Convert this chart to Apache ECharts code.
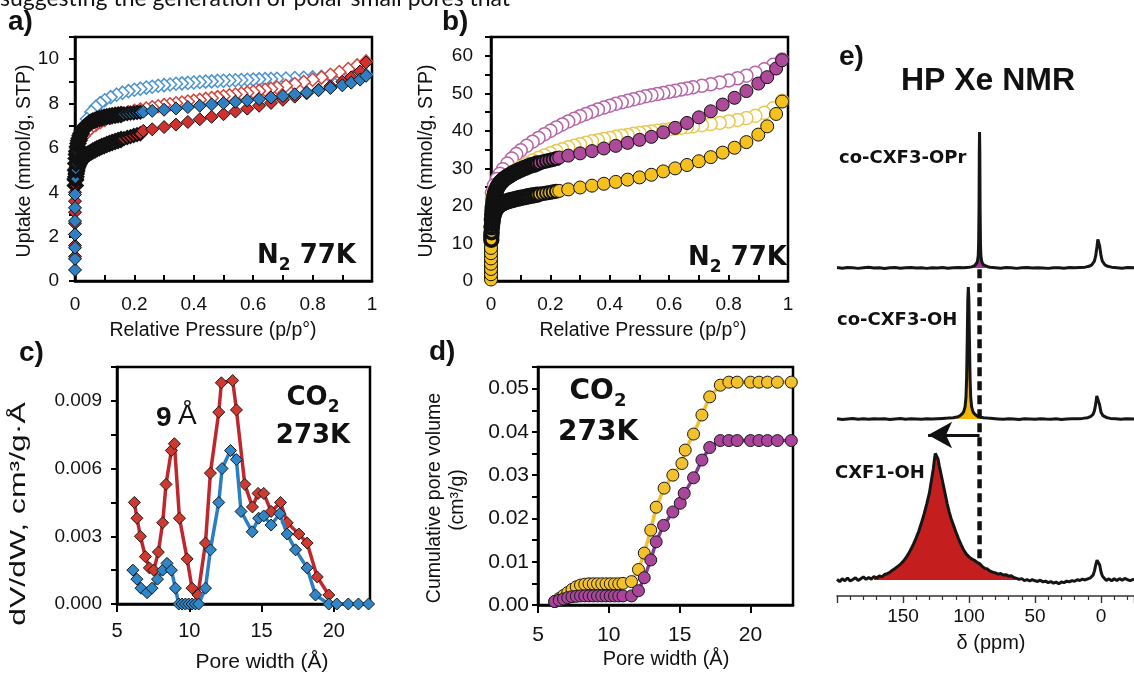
<!DOCTYPE html>
<html><head><meta charset="utf-8">
<script src="https://cdn.jsdelivr.net/npm/echarts@6/dist/echarts.min.js"></script>
<style>html,body{margin:0;padding:0;background:#fff}#c{width:1134px;height:673px}</style>
</head><body><div id="c"></div>
<script>
// ---------------- DATA ----------------
// Panels a & b: isotherm relative pressures
const adsP = [0,0,0,0,0,0,0,
 0.001,0.002,0.003,0.004,0.005,0.006,0.008,0.010,0.012,0.014,0.017,0.020,0.024,0.028,0.032,0.037,0.042,0.048,0.054,0.060,0.067,0.074,0.082,0.090,0.098,0.107,0.116,0.125,0.135,0.145,0.155,0.165,0.176,0.187,0.198,0.209,0.220,
 0.23,0.26,0.30,0.34,0.38,0.42,0.46,0.50,0.54,0.58,0.62,0.66,0.70,0.74,0.78,0.82,0.86,0.90,0.93,0.96,0.98];
const desP = [0.98,0.95,0.92,0.89,0.86,0.83,0.80,0.77,0.74,0.71,0.68,0.66,0.64,0.62,0.60,0.58,0.56,0.54,0.52,0.50,0.48,0.46,0.44,0.42,0.40,0.38,0.36,0.34,0.32,0.30,0.28,0.26,0.24,0.22,0.20,0.18,0.16,0.14,0.12,0.10,0.085,0.07,0.055,0.04,0.03,0.02,0.01,0.003];

// Panel a (mmol/g)
const aRedAds = [1.1,1.6,2.1,2.6,3.1,3.6,4.0,
 4.3,4.55,4.7,4.82,4.92,5.0,5.1,5.18,5.25,5.3,5.37,5.43,5.5,5.56,5.61,5.66,5.71,5.76,5.81,5.86,5.91,5.96,6.01,6.06,6.1,6.15,6.2,6.24,6.29,6.33,6.38,6.42,6.47,6.51,6.56,6.6,6.64,
 6.77,6.84,6.94,7.05,7.17,7.29,7.4,7.52,7.64,7.77,7.9,8.03,8.17,8.31,8.46,8.62,8.78,8.98,9.18,9.45,9.85];
const aBlueAds = [0.5,1.0,1.5,2.1,2.7,3.3,3.9,
 4.6,5.0,5.3,5.52,5.7,5.85,6.05,6.2,6.32,6.42,6.55,6.65,6.76,6.85,6.93,7.0,7.06,7.12,7.17,7.21,7.25,7.29,7.32,7.35,7.38,7.41,7.43,7.45,7.47,7.49,7.51,7.53,7.55,7.57,7.58,7.6,7.61,
 7.63,7.67,7.72,7.78,7.84,7.9,7.96,8.02,8.08,8.14,8.2,8.27,8.34,8.42,8.5,8.6,8.7,8.82,8.94,9.08,9.25];
const aRedDes = [9.9,9.72,9.56,9.42,9.3,9.18,9.07,8.97,8.88,8.8,8.72,
 8.67,8.62,8.57,8.53,8.49,8.45,8.41,8.37,8.33,
 8.29,8.25,8.21,8.17,8.13,8.09,8.05,8.01,7.97,7.93,
 7.88,7.83,7.78,7.73,7.67,7.61,7.54,7.46,7.37,7.26,
 7.16,7.04,6.9,6.72,6.55,6.35,6.1,5.8];
const aBlueDes = [9.3,9.28,9.26,9.24,9.22,9.2,9.18,9.16,9.15,9.13,9.12,
 9.11,9.1,9.09,9.08,9.07,9.06,9.05,9.04,9.03,
 9.02,9.0,8.99,8.97,8.95,8.93,8.91,8.89,8.86,8.83,
 8.8,8.76,8.72,8.67,8.62,8.56,8.49,8.4,8.29,8.15,
 8.02,7.85,7.62,7.3,7.0,6.65,6.3,6.0];

// Panel b (mmol/g)
const bMagAds = [1.0,2.5,4.0,5.5,7.0,8.5,10.0,
 12,14.5,16.3,17.7,18.8,19.7,21,22,22.8,23.4,24.1,24.7,25.3,25.8,26.2,26.6,27.0,27.4,27.7,28.0,28.35,28.7,29.0,29.3,29.6,29.9,30.2,30.5,30.8,31.0,31.3,31.5,31.8,32.0,32.2,32.4,32.6,
 32.9,33.4,34.0,34.6,35.3,36.0,36.8,37.6,38.4,39.6,40.8,42.1,43.6,45.2,47.0,48.8,50.6,52.6,54.3,56.6,58.8];
const bGoldAds = [0.4,1.8,3.2,4.6,6.0,7.4,8.8,
 11,13,14.3,15.2,15.9,16.5,17.3,17.9,18.4,18.8,19.2,19.6,19.9,20.2,20.4,20.6,20.8,21.0,21.2,21.35,21.5,21.65,21.8,21.95,22.1,22.25,22.4,22.55,22.7,22.85,23.0,23.15,23.3,23.45,23.6,23.75,23.9,
 24.0,24.4,24.9,25.4,25.9,26.4,27.0,27.6,28.3,29.2,30.0,30.9,31.9,33.0,34.2,35.5,37.0,39.0,41.2,44.5,47.8];
const bMagDes = [59,57.6,56.4,55.5,54.7,54.0,53.4,52.9,52.4,52.0,51.6,
 51.3,51.0,50.7,50.4,50.1,49.8,49.5,49.2,48.8,
 48.4,48.0,47.6,47.2,46.7,46.2,45.7,45.1,44.5,43.9,
 43.2,42.5,41.7,40.9,40.0,39.1,38.1,37.1,36.0,34.8,
 33.8,32.6,31.3,29.8,28.6,27.2,25.5,23.5];
const bGoldDes = [48,46.0,44.8,44.0,43.4,42.9,42.5,42.1,41.8,41.5,41.2,
 41.0,40.8,40.6,40.4,40.2,40.0,39.8,39.6,39.4,
 39.2,38.9,38.7,38.4,38.1,37.8,37.5,37.2,36.8,36.4,
 36.0,35.6,35.1,34.6,34.0,33.4,32.8,32.1,31.3,30.4,
 29.7,28.9,28.0,27.0,26.2,25.2,23.8,22.0];

// Panel c: pore size distribution (dV/dW)
const cRedW = [6.2,6.38,6.62,6.96,7.24,7.54,7.86,8.16,8.39,8.76,8.97,9.32,9.85,10.19,10.6,11.12,11.46,12.04,12.22,13.0,13.26,13.84,14.37,14.76,15.15,15.66,16.31,16.77,17.58,18.15,18.85,19.65];
const cRedV = [0.0045,0.0038,0.003,0.0021,0.0016,0.0015,0.0023,0.0036,0.0053,0.0068,0.0071,0.0038,0.002,0.0007,0.0004,0.0027,0.0058,0.0085,0.0098,0.0099,0.0086,0.0053,0.0043,0.0049,0.0049,0.0041,0.0045,0.0036,0.0031,0.0027,0.0012,0.0004];
const cBlueW = [6.1,6.38,6.66,7.08,7.42,7.8,8.16,8.46,8.76,9.04,9.27,9.5,9.73,9.96,10.19,10.42,10.65,11.12,11.46,12.04,12.27,12.85,13.26,13.58,14.35,14.8,15.15,15.66,16.26,16.77,17.35,18.15,18.73,19.65,20.2,21.0,21.7,22.4];
const cBlueV = [0.0015,0.0011,0.0007,0.0005,0.0007,0.0011,0.0015,0.0018,0.0015,0.0007,0,0,0,0,0,0,0,0.0007,0.0024,0.0045,0.006,0.0068,0.0064,0.0041,0.0032,0.0038,0.0039,0.0035,0.004,0.0031,0.0024,0.0016,0.0004,0,0,0,0,0];

// Panel d: cumulative pore volume
const dGoldW = [6.18,6.5,6.8,7.1,7.4,7.7,8.0,8.3,8.6,8.9,9.2,9.5,9.8,10.1,10.4,10.7,11.0,11.6,12.09,12.5,12.96,13.34,13.9,14.52,15.16,15.39,15.98,16.57,17.12,17.87,18.47,19.06,20.0,20.6,21.2,21.9,22.88];
const dGoldV = [0.0008,0.0015,0.0022,0.0029,0.0036,0.0042,0.0046,0.0048,0.0049,0.0049,0.0049,0.0049,0.0049,0.0049,0.0049,0.0049,0.005,0.0054,0.0082,0.012,0.0173,0.0226,0.027,0.03,0.0327,0.0358,0.0395,0.0439,0.0481,0.0508,0.0515,0.0515,0.0515,0.0515,0.0515,0.0515,0.0515];
const dMagW = [6.18,6.5,6.8,7.1,7.4,7.7,8.0,8.3,8.6,8.9,9.2,9.5,9.8,10.1,10.4,10.7,11.0,11.6,12.09,12.5,12.96,13.34,13.86,14.52,15.04,15.32,15.98,16.57,17.12,17.87,18.47,19.06,20.0,20.6,21.2,21.9,22.88];
const dMagV = [0.0008,0.0011,0.0014,0.0017,0.0019,0.002,0.0021,0.0021,0.0021,0.0021,0.0021,0.0021,0.0021,0.0021,0.0021,0.0021,0.0021,0.0021,0.0033,0.0063,0.0104,0.0146,0.0184,0.0215,0.0235,0.0258,0.0294,0.0335,0.0364,0.038,0.038,0.038,0.038,0.038,0.038,0.038,0.038];

// Panel e: 129Xe NMR spectra [ppm, intensity]
const eOPr = [[200,0.3],[196,-0.2],[192,0.4],[188,0.1],[184,-0.3],[180,0.2],[176,0.5],[172,-0.1],[168,0.2],[164,-0.4],[160,0.1],[156,0.3],[152,-0.2],[148,0.2],[144,0.4],[140,-0.1],[136,0.1],[132,-0.3],[128,0.2],[124,0.0],[120,0.3],[116,-0.2],[112,0.1],[108,0.4],[104,0.2],[100,0.5],[98,0.8],[96,1.5],[95,2.2],[94,3.8],[93.5,5.5],[93,9],[92.7,18],[92.4,45],[92.2,85],[92,100],[91.8,85],[91.6,45],[91.3,18],[91,9],[90.5,5.5],[90,3.8],[89,2.2],[88,1.5],[86,0.9],[84,0.5],[80,0.2],[76,-0.2],[72,0.3],[68,0.1],[64,-0.3],[60,0.2],[56,0.4],[52,-0.1],[48,0.2],[44,0.0],[40,-0.3],[36,0.2],[32,0.1],[28,-0.2],[24,0.3],[20,0.1],[16,0.4],[12,0.6],[9,1.2],[7,2.3],[5,5],[4,9],[3,16],[2.4,21],[2,22],[1.6,21],[1,16],[0,9],[-1,5],[-3,2.3],[-5,1.2],[-8,0.6],[-12,0.2],[-16,-0.2],[-20,0.3],[-25,0.1]];
const eOH = [[200,0.2],[196,-0.3],[192,0.1],[188,0.4],[184,-0.1],[180,0.2],[176,-0.2],[172,0.3],[168,0.0],[164,0.2],[160,-0.3],[156,0.1],[152,0.4],[148,-0.1],[144,0.2],[140,0.0],[136,-0.2],[132,0.3],[128,0.1],[124,0.3],[120,0.5],[116,0.7],[112,1.0],[109,1.5],[107,2.3],[105,4],[104,5.5],[103,9],[102.3,16],[101.8,30],[101.3,60],[100.9,88],[100.5,97],[100.1,88],[99.7,60],[99.2,30],[98.7,16],[98,9],[97,5.5],[96,4],[94,2.3],[92,1.5],[89,1.0],[86,0.7],[82,0.4],[78,0.1],[74,-0.2],[70,0.2],[66,0.0],[62,-0.3],[58,0.2],[54,0.1],[50,-0.2],[46,0.3],[42,0.0],[38,-0.1],[34,0.2],[30,-0.3],[26,0.1],[22,0.2],[18,0.3],[14,0.5],[10,1.0],[8,1.8],[6,3.5],[5,6],[4,11],[3.2,17],[2.6,18],[2,17],[1.2,11],[0,5],[-1.5,2.5],[-4,1.2],[-7,0.5],[-11,0.2],[-15,-0.2],[-19,0.2],[-25,0.0]];
const eCXF1 = [[200,0.5],[198,-1.2],[196,0.8],[194,-0.5],[192,1.4],[190,-0.8],[188,0.3],[186,1.6],[184,-0.4],[182,0.9],[180,2.2],[178,0.4],[176,1.8],[174,0.6],[172,2.5],[170,1.4],[168,3.0],[166,2.2],[164,4.0],[162,4.6],[160,5.5],[158,7.2],[156,8.5],[154,10],[152,11.5],[150,13.5],[148,16],[146,19],[144,22.5],[142,26.5],[140,31],[138,36],[136,42],[134,48.5],[132,56],[130,64],[128.5,73],[127,82],[126,90],[125.5,93],[124.5,92.5],[123.5,89],[122.5,84],[121,77],[119.5,70],[118,63],[116.5,56],[115,50],[113.5,45],[112,41],[110,35.5],[108,30.5],[106,26],[104,22],[102,19],[100,17],[98,15.5],[96,14.5],[94,13],[92,12],[90,10],[88,8.5],[86,8],[84,6.5],[82,5.8],[80,5.2],[78,4.3],[76,4.8],[74,3.6],[72,3.9],[70,2.8],[68,3.1],[66,1.8],[64,1.2],[62,0.4],[60,1.0],[58,-0.5],[56,0.3],[54,-0.8],[52,0.2],[50,-0.6],[48,-1.1],[46,-0.2],[44,-1.4],[42,-0.9],[40,-2.0],[38,-1.2],[36,-2.4],[34,-1.6],[32,-2.8],[30,-1.5],[28,-2.0],[26,-0.9],[24,-1.4],[22,-0.5],[20,-1.0],[18,0.2],[16,-0.4],[14,0.6],[12,0.0],[10,0.8],[8,1.6],[6,3.5],[5,6.5],[4,11],[3,14.5],[2.5,15],[2,14.5],[1,11],[0,6],[-1,3],[-2.5,1.2],[-4,-0.3],[-6,0.8],[-8,-0.6],[-10,0.9],[-12,-0.4],[-14,1.0],[-16,-0.2],[-18,1.1],[-20,0.3],[-22,-0.5],[-25,0.6]];

// ---------------- LAYOUT / STYLE ----------------
const SANS = "'Liberation Sans', Arial, sans-serif";
const BOLDF = "'DejaVu Sans', sans-serif";
const OFF = {opr: 241.2, oh: 130.1, cxf1: 11.8};     // stacking offsets of the spectra
const FILL = {opr: [86, 98], oh: [86, 110], cxf1: [62, 172]};
const ARROW_Y = 118.4, ARROW_TIP = 131;

const pairs = (xs, ys) => xs.map((x, i) => [x, ys[i]]);
const shift = (d, o) => d.map(p => [p[0], p[1] + o]);
// dense low-pressure points overlap into a dark mass: give them heavier outlines
const densePairs = (xs, ys) => xs.map((x, i) => ({value: [x, ys[i]],
  itemStyle: {borderWidth: x === 0 ? 1 : (x < 0.16 ? 3.5 : (x <= 0.221 ? 2 : 1))}}));

function axisBase(extra) {
  return Object.assign({
    type: 'value', splitLine: {show: false},
    axisLine: {show: true, onZero: false, lineStyle: {color: '#000', width: 2.5}},
    axisTick: {show: true, length: 6, lineStyle: {color: '#000', width: 2}},
    minorTick: {show: true, splitNumber: 2, length: 6, lineStyle: {color: '#000', width: 2}},
    axisLabel: {color: '#111', fontFamily: SANS, fontSize: 19, margin: 16, showMaxLabel: false}
  }, extra);
}

const grids = [
  {left: 75, top: 37, width: 297, height: 244},
  {left: 491, top: 37, width: 297, height: 244},
  {left: 117, top: 367, width: 253, height: 237},
  {left: 538, top: 367, width: 255, height: 238},
  {left: 837, top: 120, width: 297, height: 476}
].map((g, i) => Object.assign(g, i < 4 ? {show: true, borderColor: '#000', borderWidth: 2.5, containLabel: false} : {containLabel: false}));

const xAxes = [
  axisBase({gridIndex: 0, min: 0, max: 1, interval: 0.2, axisTick: {show: true, inside: true, length: 6, lineStyle: {color: '#000', width: 2}}, axisLabel: {color: '#111', fontFamily: SANS, fontSize: 19, margin: 14, showMaxLabel: true}}),
  axisBase({gridIndex: 1, min: 0, max: 1, interval: 0.2, axisTick: {show: true, inside: true, length: 6, lineStyle: {color: '#000', width: 2}}, axisLabel: {color: '#111', fontFamily: SANS, fontSize: 19, margin: 14, showMaxLabel: true}}),
  axisBase({gridIndex: 2, min: 5, max: 22.5, interval: 5, minorTick: {show: false}, axisTick: {show: true, length: 8, lineStyle: {color: '#000', width: 2}}, axisLabel: {color: '#111', fontFamily: SANS, fontSize: 20, margin: 17, showMaxLabel: false}}),
  axisBase({gridIndex: 3, min: 5, max: 23, interval: 5, minorTick: {show: false}, axisTick: {show: true, length: 8, lineStyle: {color: '#000', width: 2}}, axisLabel: {color: '#111', fontFamily: SANS, fontSize: 21, margin: 20, showMaxLabel: false}}),
  {type: 'value', gridIndex: 4, min: -25, max: 200, splitNumber: 5, inverse: true, splitLine: {show: false},
   axisLine: {show: true, onZero: false, lineStyle: {color: '#333', width: 1.6}},
   axisTick: {show: true, length: 7, lineStyle: {color: '#333', width: 1.4}},
   minorTick: {show: true, splitNumber: 5, length: 4, lineStyle: {color: '#333', width: 1.2}},
   axisLabel: {color: '#111', fontFamily: SANS, fontSize: 19, margin: 11, showMaxLabel: false, showMinLabel: false}}
];
const yAxes = [
  axisBase({gridIndex: 0, min: 0, max: 11, interval: 2}),
  axisBase({gridIndex: 1, min: 0, max: 65, interval: 10, axisLabel: {color: '#111', fontFamily: SANS, fontSize: 19, margin: 18, showMaxLabel: false}}),
  axisBase({gridIndex: 2, min: 0, max: 0.0105, interval: 0.003, axisLabel: {color: '#111', fontFamily: SANS, fontSize: 19, margin: 15, showMaxLabel: false, formatter: v => v.toFixed(3)}}),
  axisBase({gridIndex: 3, min: 0, max: 0.055, interval: 0.01, axisLabel: {color: '#111', fontFamily: SANS, fontSize: 21, margin: 9, showMaxLabel: false, formatter: v => v.toFixed(2)}}),
  {type: 'value', gridIndex: 4, min: 0, max: 350, show: false}
];

function scat(ai, xs, ys, symbol, size, color, border, bw, z, dense) {
  return {type: 'scatter', xAxisIndex: ai, yAxisIndex: ai, data: dense ? densePairs(xs, ys) : pairs(xs, ys), symbol, symbolSize: size,
    itemStyle: {color, borderColor: border, borderWidth: bw, opacity: 1}, silent: true, z};
}
function lineSym(ai, xs, ys, symbol, size, color, lineColor, z) {
  return {type: 'line', xAxisIndex: ai, yAxisIndex: ai, data: pairs(xs, ys), symbol, symbolSize: size, showSymbol: true,
    lineStyle: {color: lineColor, width: 3.5}, itemStyle: {color, borderColor: '#1a1a1a', borderWidth: 1}, silent: true, z};
}
function spectrum(data, off, fillColor, range) {
  const fillData = shift(data.filter(p => p[0] >= range[0] && p[0] <= range[1]), off);
  return [
    {type: 'line', xAxisIndex: 4, yAxisIndex: 4, data: fillData, symbol: 'none', silent: true, z: 2,
     lineStyle: {width: 0, opacity: 0}, areaStyle: {color: fillColor, opacity: 1, origin: off}},
    {type: 'line', xAxisIndex: 4, yAxisIndex: 4, data: shift(data, off), symbol: 'none', silent: true, z: 3,
     lineStyle: {color: '#151515', width: 3}}
  ];
}
const peakOPr = eOPr.reduce((m, p) => p[1] > m[1] ? p : m)[0];

const series = [
  scat(0, desP, aBlueDes, 'diamond', 13, '#ffffff', '#4a93cf', 1.5, 2),
  scat(0, desP, aRedDes, 'diamond', 13, '#ffffff', '#d2453d', 1.5, 2),
  scat(0, adsP, aRedAds, 'diamond', 13, '#d1312e', '#111', 1, 3, true),
  scat(0, adsP, aBlueAds, 'diamond', 13, '#2f80c3', '#111', 1, 3, true),
  scat(1, desP, bMagDes, 'circle', 13, '#ffffff', '#b764a8', 1.5, 2),
  scat(1, desP, bGoldDes, 'circle', 13, '#ffffff', '#e8c84e', 1.5, 2),
  scat(1, adsP, bMagAds, 'circle', 13, '#ad4a9a', '#111', 1, 3, true),
  scat(1, adsP, bGoldAds, 'circle', 13, '#f5c11f', '#111', 1, 3, true),
  lineSym(2, cRedW, cRedV, 'diamond', 12, '#cf3a30', '#c0272d', 3),
  lineSym(2, cBlueW, cBlueV, 'diamond', 12, '#2f86c8', '#2a7ec4', 4),
  lineSym(3, dGoldW, dGoldV, 'circle', 12, '#f3c12b', '#f0c030', 3),
  lineSym(3, dMagW, dMagV, 'circle', 12, '#a9459a', '#7e3f93', 4),
  ...spectrum(eOPr, OFF.opr, '#a2378d', FILL.opr),
  ...spectrum(eOH, OFF.oh, '#f5b700', FILL.oh),
  ...spectrum(eCXF1, OFF.cxf1, '#c41f1e', FILL.cxf1),
  {type: 'line', xAxisIndex: 4, yAxisIndex: 4, data: [[peakOPr, OFF.opr - 1], [peakOPr, OFF.cxf1 + 13]], symbol: 'none', silent: true, z: 5,
   lineStyle: {color: '#111', width: 4.5, type: [9, 5]},
   markLine: {silent: true, symbol: ['none', 'arrow'], symbolSize: [20, 24], label: {show: false},
     lineStyle: {color: '#111', width: 3, type: 'solid'},
     data: [[{coord: [peakOPr, ARROW_Y]}, {coord: [ARROW_TIP, ARROW_Y]}]]}}
];

// ---------------- TEXT ----------------
function txt(x, y, text, size, weight, family, extra) {
  return {type: 'text', x, y, silent: true, z: 10,
    style: Object.assign({text, fontSize: size, fontWeight: weight || 'normal', fontFamily: family || SANS, fill: '#111',
      align: 'left', verticalAlign: 'middle', textAlign: 'left', textVerticalAlign: 'middle'}, extra || {})};
}
function rot(x, y, text, size, stretch) {
  return {type: 'text', x, y, rotation: Math.PI / 2, scaleX: stretch || 1, silent: true, z: 10,
    style: {text, fontSize: size, fontFamily: SANS, fill: '#111', align: 'center', verticalAlign: 'middle', textAlign: 'center', textVerticalAlign: 'middle'}};
}
function sub(x, y, main, s, rest, size, alignRight) {
  const f = {fontFamily: BOLDF, fontWeight: 'bold', fill: '#111'};
  return {type: 'text', x, y, silent: true, z: 10,
    style: {text: '{n|' + main + '}{s|' + s + '}' + (rest ? '{n|' + rest + '}' : ''),
      align: alignRight ? 'right' : 'center', verticalAlign: 'middle', textAlign: alignRight ? 'right' : 'center', textVerticalAlign: 'middle',
      rich: {n: Object.assign({fontSize: size, lineHeight: 36, verticalAlign: 'middle'}, f),
             s: Object.assign({fontSize: Math.round(size * 0.65), verticalAlign: 'bottom'}, f)}}};
}
const center = {align: 'center', textAlign: 'center'};

const graphic = [
  txt(0, -1, 'suggesting the generation of polar small pores that', 23, 'normal', "Lato, sans-serif"),
  txt(8, 22, 'a)', 28, 'bold'),
  txt(442, 22, 'b)', 28, 'bold'),
  txt(19, 353, 'c)', 28, 'bold'),
  txt(429, 352, 'd)', 28, 'bold'),
  txt(839, 57, 'e)', 28, 'bold'),
  txt(988, 81, 'HP Xe NMR', 32, 'bold', SANS, center),
  txt(839, 158, 'co-CXF3-OPr', 18, 'bold', BOLDF),
  txt(837, 320, 'co-CXF3-OH', 18, 'bold', BOLDF),
  txt(835, 473, 'CXF1-OH', 18, 'bold', BOLDF),
  sub(356, 256, 'N', '2', ' 77K', 26, true),
  sub(787, 258, 'N', '2', ' 77K', 26, true),
  sub(313, 398, 'CO', '2', '', 26, false),
  txt(313, 436, '273K', 26, 'bold', BOLDF, center),
  sub(598, 392, 'CO', '2', '', 28, false),
  txt(598, 433, '273K', 28, 'bold', BOLDF, center),
  txt(156, 418, '9', 28, 'bold'),
  txt(178, 416, 'Å', 28, 'normal'),
  rot(25, 161, 'Uptake (mmol/g, STP)', 19.5),
  rot(427, 161, 'Uptake (mmol/g, STP)', 19.5),
  txt(213, 331, 'Relative Pressure (p/p°)', 19.5, 'normal', SANS, center),
  txt(643, 331, 'Relative Pressure (p/p°)', 19.5, 'normal', SANS, center),
  rot(19, 514, 'dV/dW, cm³/g·Å', 22, 1.45),
  txt(262, 662, 'Pore width (Å)', 21, 'normal', SANS, center),
  rot(435, 498, 'Cumulative pore volume', 19.5),
  rot(458, 500, '(cm³/g)', 19.5),
  txt(666, 659, 'Pore width (Å)', 20, 'normal', SANS, center),
  txt(991, 643, 'δ (ppm)', 20, 'normal', SANS, center)
];

const chart = echarts.init(document.getElementById('c'), null, {renderer: 'canvas'});
chart.setOption({
  backgroundColor: '#ffffff', animation: false,
  grid: grids, xAxis: xAxes, yAxis: yAxes, series, graphic
});
</script></body></html>
